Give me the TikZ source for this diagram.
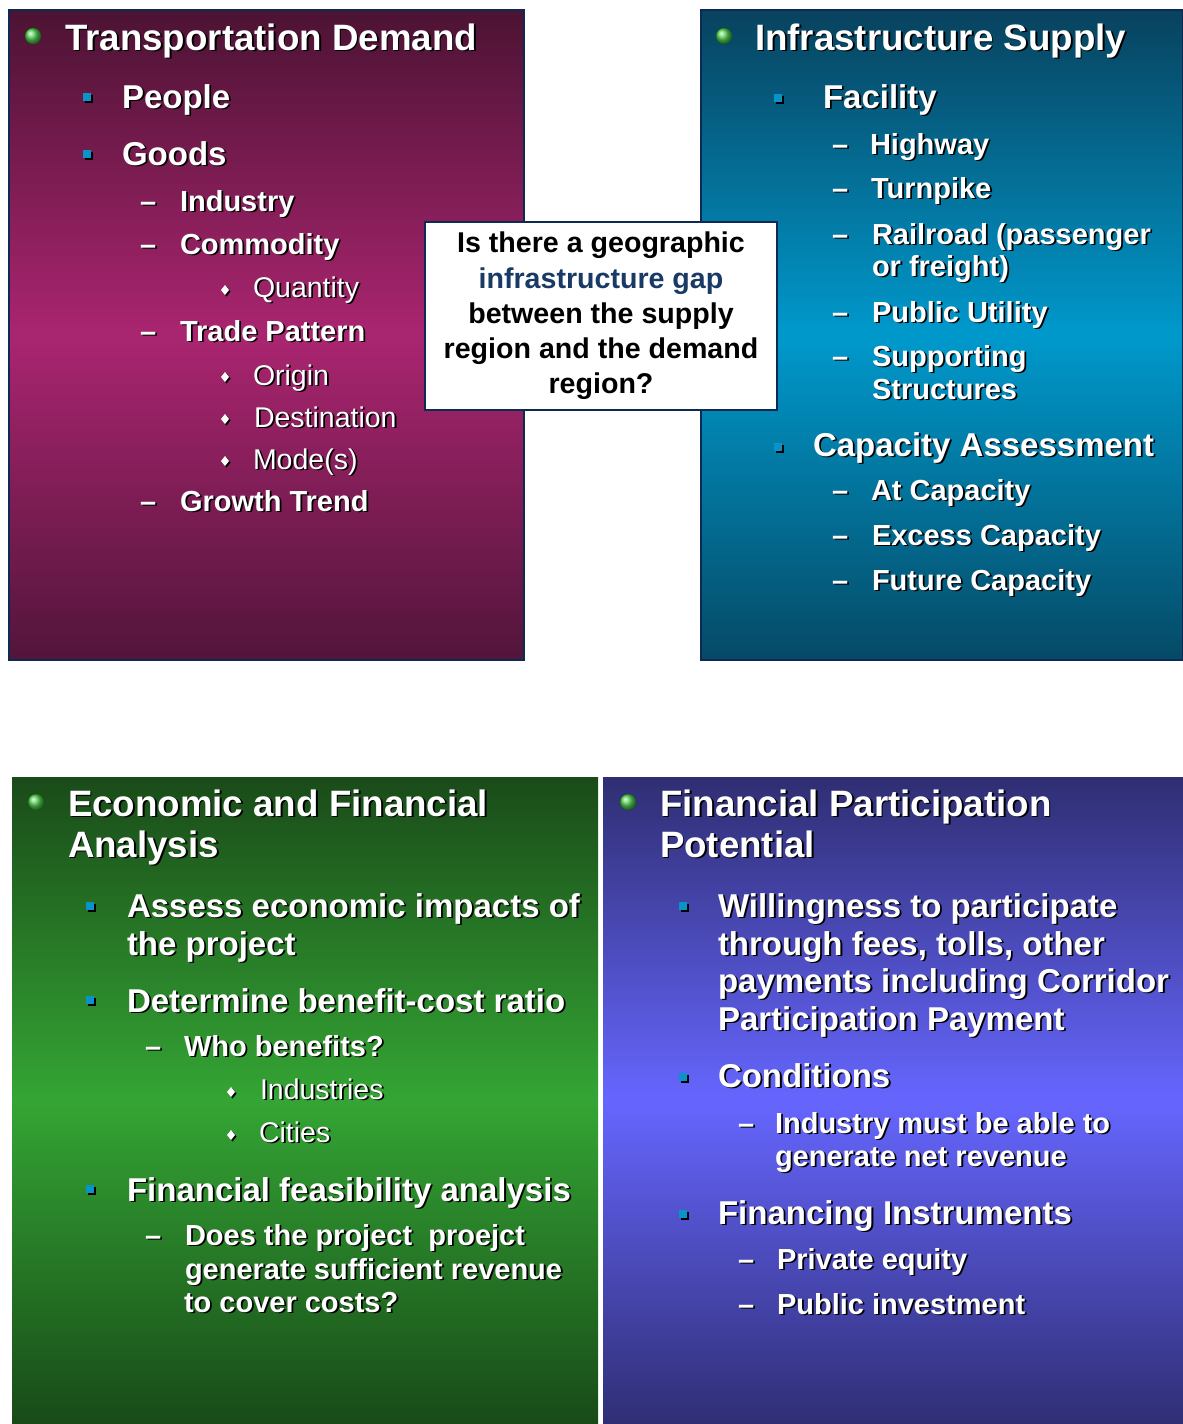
\documentclass[tikz,border=0pt]{standalone}
\usepackage{fontspec}
\setmainfont{Liberation Sans}
\usetikzlibrary{shapes.geometric}
\definecolor{navyedge}{HTML}{0D2A55}
\definecolor{magtop}{HTML}{4C1333}
\definecolor{magmid}{HTML}{AA2570}
\definecolor{magbot}{HTML}{52153A}
\definecolor{teltop}{HTML}{08425E}
\definecolor{telmid}{HTML}{0099CC}
\definecolor{telbot}{HTML}{054A66}
\definecolor{grntop}{HTML}{1A4B19}
\definecolor{grnmid}{HTML}{34A534}
\definecolor{grnbot}{HTML}{184A18}
\definecolor{blutop}{HTML}{2F2E72}
\definecolor{blumid}{HTML}{6666FF}
\definecolor{blubot}{HTML}{2F2E74}
\definecolor{sqblue}{HTML}{0A93C6}
\definecolor{gapblue}{HTML}{1A3A66}
\definecolor{ballgreen}{HTML}{5CD85C}
\newcommand{\shd}[1]{\leavevmode\rlap{\kern1.8pt\raisebox{-1.8pt}{\color{black}#1}}#1}
\newcommand{\sqb}[2]{%
  \fill[black] (#1-2,#2-2) rectangle (#1+5.6,#2+5.6);
  \fill[sqblue] (#1-3.8,#2-3.8) rectangle (#1+3.8,#2+3.8);}
\newcommand{\dmb}[2]{%
  \fill[black] (#1+1.5,#2-3.5) -- (#1+5.5,#2+1.5) -- (#1+1.5,#2+6.5) -- (#1-2.5,#2+1.5) -- cycle;
  \fill[white] (#1,#2-5) -- (#1+4,#2) -- (#1,#2+5) -- (#1-4,#2) -- cycle;}
\newcommand{\gball}[2]{%
  \fill[green!40!black] (#1,#2) circle (8.2);
  \shade[ball color=ballgreen] (#1,#2) circle (7.8);}
\tikzset{
  txt/.style={inner sep=0pt, outer sep=0pt, anchor=base west, text=white},
  ttl/.style={txt, font=\fontsize{36.7}{42}\selectfont\bfseries},
  lone/.style={txt, font=\fontsize{33}{38}\selectfont\bfseries},
  ltwo/.style={txt, font=\fontsize{29}{34}\selectfont\bfseries},
  lthree/.style={txt, font=\fontsize{28.5}{34}\selectfont},
  panel/.style={draw=navyedge, line width=2pt},
  gapbox/.style={draw=navyedge, line width=1.2pt, fill=white, inner sep=0pt,
    minimum width=352pt, minimum height=188pt, align=center,
    font=\fontsize{28.6}{35.3}\selectfont\bfseries, text=black}
}
\begin{document}
\begin{tikzpicture}[x=1pt,y=-1pt]
\useasboundingbox (0,0) rectangle (1183,1424);
\fill[white] (0,0) rectangle (1183,1424);
% ---------- panels ----------
\shade[top color=magtop, bottom color=magbot, middle color=magmid] (9,10) rectangle (524,660);
\draw[panel] (9,10) rectangle (524,660);
\shade[top color=teltop, bottom color=telbot, middle color=telmid] (701,10) rectangle (1183,660);
\draw[panel] (701,10) rectangle (1183,660);
\shade[top color=grntop, bottom color=grnbot, middle color=grnmid] (12,777) rectangle (598,1424);
\shade[top color=blutop, bottom color=blubot, middle color=blumid] (603,777) rectangle (1183,1424);
% ---------- Transportation Demand ----------
\gball{33}{36}
\node[ttl] (tdtitle) at (65,50) {\shd{Transportation Demand}};
\sqb{87}{97}
\node[lone] (tdpeople) at (122,108) {\shd{People}};
\sqb{87}{154}
\node[lone] (tdgoods) at (122,165) {\shd{Goods}};
\node[ltwo] (tdd1) at (140,211) {\shd{–}};
\node[ltwo] (tdindustry) at (180,211) {\shd{Industry}};
\node[ltwo] (tdd2) at (140,254) {\shd{–}};
\node[ltwo] (tdcommodity) at (180,254) {\shd{Commodity}};
\dmb{225}{290}
\node[lthree] (tdquantity) at (253,297) {\shd{Quantity}};
\node[ltwo] (tdd3) at (140,341) {\shd{–}};
\node[ltwo] (tdtrade) at (180,341) {\shd{Trade Pattern}};
\dmb{225}{377}
\node[lthree] (tdorigin) at (253,385) {\shd{Origin}};
\dmb{225}{419}
\node[lthree] (tddest) at (254,427) {\shd{Destination}};
\dmb{225}{461}
\node[lthree] (tdmode) at (253,469) {\shd{Mode(s)}};
\node[ltwo] (tdd4) at (140,511) {\shd{–}};
\node[ltwo] (tdgrowth) at (180,511) {\shd{Growth Trend}};
% ---------- Infrastructure Supply ----------
\gball{724}{36}
\node[ttl] (istitle) at (755,50) {\shd{Infrastructure Supply}};
\sqb{778}{98}
\node[lone] (isfacility) at (823,108) {\shd{Facility}};
\node[ltwo] (isd1) at (832,154) {\shd{–}};
\node[ltwo] (ishighway) at (870,154) {\shd{Highway}};
\node[ltwo] (isd2) at (832,198) {\shd{–}};
\node[ltwo] (isturnpike) at (871,198) {\shd{Turnpike}};
\node[ltwo] (isd3) at (832,244) {\shd{–}};
\node[ltwo] (israil) at (872,244) {\shd{Railroad (passenger}};
\node[ltwo] (israilb) at (872,276) {\shd{or freight)}};
\node[ltwo] (isd4) at (832,322) {\shd{–}};
\node[ltwo] (isutility) at (872,322) {\shd{Public Utility}};
\node[ltwo] (isd5) at (832,366) {\shd{–}};
\node[ltwo] (issupport) at (872,366) {\shd{Supporting}};
\node[ltwo] (issupportb) at (872,399) {\shd{Structures}};
\sqb{778}{447}
\node[lone] (iscapacity) at (813,456) {\shd{Capacity Assessment}};
\node[ltwo] (isd6) at (832,500) {\shd{–}};
\node[ltwo] (isat) at (871,500) {\shd{At Capacity}};
\node[ltwo] (isd7) at (832,545) {\shd{–}};
\node[ltwo] (isexcess) at (872,545) {\shd{Excess Capacity}};
\node[ltwo] (isd8) at (832,590) {\shd{–}};
\node[ltwo] (isfuture) at (872,590) {\shd{Future Capacity}};
% ---------- centre question ----------
\node[gapbox] (gap) at (601,316)
  {Is there a geographic\\ \textcolor{gapblue}{infrastructure gap}\\ between the supply\\ region and the demand\\ region?};
% ---------- Economic and Financial Analysis ----------
\gball{36}{802}
\node[ttl] (eftitle) at (68,816) {\shd{Economic and Financial}};
\node[ttl] (eftitleb) at (68,857) {\shd{Analysis}};
\sqb{90}{906}
\node[lone] (efassess) at (127,917) {\shd{Assess economic impacts of}};
\node[lone] (efassessb) at (127,955) {\shd{the project}};
\sqb{90}{1000}
\node[lone] (efbcr) at (127,1012) {\shd{Determine benefit-cost ratio}};
\node[ltwo] (efd1) at (145,1056) {\shd{–}};
\node[ltwo] (efwho) at (184,1056) {\shd{Who benefits?}};
\dmb{231}{1092}
\node[lthree] (efind) at (260,1099) {\shd{Industries}};
\dmb{231}{1135}
\node[lthree] (efcities) at (259,1142) {\shd{Cities}};
\sqb{90}{1189}
\node[lone] (effeas) at (127,1201) {\shd{Financial feasibility analysis}};
\node[ltwo] (efd2) at (145,1245) {\shd{–}};
\node[ltwo] (efdoes) at (185,1245) {\shd{Does the project\ \ proejct}};
\node[ltwo] (efdoesb) at (185,1279) {\shd{generate sufficient revenue}};
\node[ltwo] (efdoesc) at (184,1312) {\shd{to cover costs?}};
% ---------- Financial Participation Potential ----------
\gball{628}{802}
\node[ttl] (fptitle) at (660,816) {\shd{Financial Participation}};
\node[ttl] (fptitleb) at (660,857) {\shd{Potential}};
\sqb{683}{906}
\node[lone] (fpwill) at (718,917) {\shd{Willingness to participate}};
\node[lone] (fpwillb) at (718,955) {\shd{through fees, tolls, other}};
\node[lone] (fpwillc) at (718,992) {\shd{payments including Corridor}};
\node[lone] (fpwilld) at (718,1030) {\shd{Participation Payment}};
\sqb{683}{1077}
\node[lone] (fpcond) at (718,1087) {\shd{Conditions}};
\node[ltwo] (fpd1) at (738,1133) {\shd{–}};
\node[ltwo] (fpindustry) at (775,1133) {\shd{Industry must be able to}};
\node[ltwo] (fpindustryb) at (775,1166) {\shd{generate net revenue}};
\sqb{683}{1214}
\node[lone] (fpinstr) at (718,1224) {\shd{Financing Instruments}};
\node[ltwo] (fpd2) at (738,1269) {\shd{–}};
\node[ltwo] (fpprivate) at (777,1269) {\shd{Private equity}};
\node[ltwo] (fpd3) at (738,1314) {\shd{–}};
\node[ltwo] (fppublic) at (777,1314) {\shd{Public investment}};
\end{tikzpicture}
\end{document}
